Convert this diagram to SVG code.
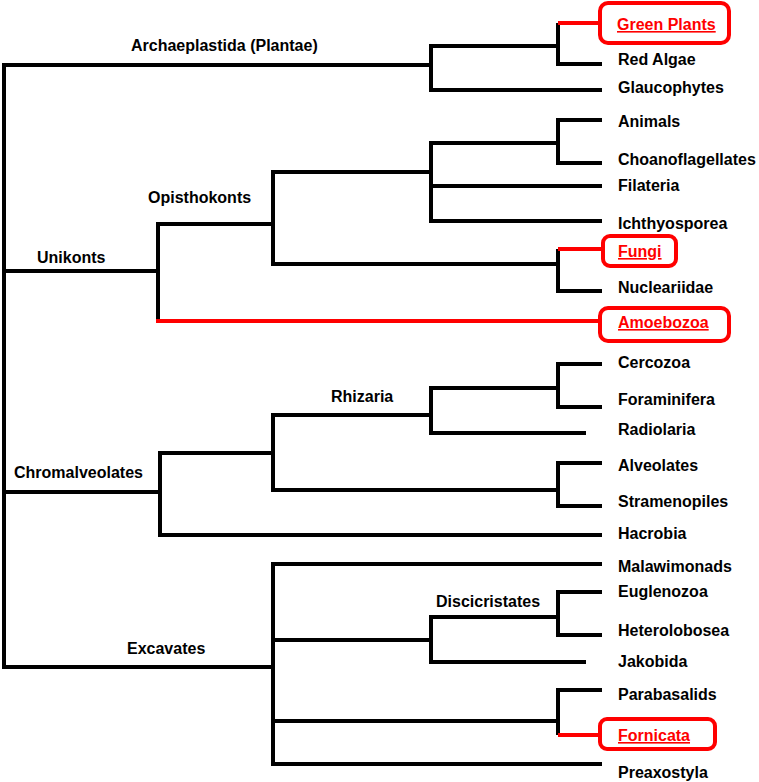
<svg xmlns="http://www.w3.org/2000/svg" width="759" height="782" viewBox="0 0 759 782">
<style>
.t{font-family:"Liberation Sans",Arial,sans-serif;font-weight:bold;font-size:16px;fill:#000}
.r{fill:#ff0000;text-decoration:underline}
.b{fill:none;stroke:#000;stroke-width:4;stroke-linejoin:miter;stroke-linecap:butt}
.rl{fill:none;stroke:#ff0000;stroke-width:4}
.box{fill:none;stroke:#ff0000;stroke-width:4}
</style>
<rect width="759" height="782" fill="#fff"/>
<g id="connectors">
<path class="b" d="M431,65 H4 V667 H273"/>
<path class="b" d="M558,46 H431 V90 H602"/>
<path class="b" d="M558,23 V64 H602"/>
<path class="rl" d="M558,23 H600"/>
<path class="b" d="M4,271 H158 V224 H273"/>
<path class="b" d="M431,172 H273 V264 H558"/>
<path class="b" d="M602,120 H558 V163 H602"/>
<path class="b" d="M558,143 H431 V221 H602"/>
<path class="b" d="M431,186 H602"/>
<path class="b" d="M558,249 V291 H602"/>
<path class="rl" d="M558,249 H602"/>
<path class="b" d="M158,224 V321"/>
<path class="rl" d="M156,321 H598"/>
<path class="b" d="M4,492 H160"/>
<path class="b" d="M273,453 H160 V535 H602"/>
<path class="b" d="M431,415 H273 V490 H558"/>
<path class="b" d="M558,388 H431 V433 H586"/>
<path class="b" d="M602,364 H558 V407 H602"/>
<path class="b" d="M602,463 H558 V506 H602"/>
<path class="b" d="M602,564 H273 V764 H602"/>
<path class="b" d="M273,640 H431"/>
<path class="b" d="M558,617 H431 V662 H586"/>
<path class="b" d="M602,592 H558 V635 H602"/>
<path class="b" d="M273,721 H558"/>
<path class="b" d="M602,690 H558 V735"/>
<path class="rl" d="M558,735 H598"/>
</g>
<g id="archaeplastida"><text class="t" x="131" y="51">Archaeplastida (Plantae)</text></g>
<g id="green-plants"><rect class="box" x="600" y="3" width="129" height="40" rx="8"/><text class="t r" x="617" y="30">Green Plants</text></g>
<g id="red-algae"><text class="t" x="618" y="65">Red Algae</text></g>
<g id="glaucophytes"><text class="t" x="618" y="93">Glaucophytes</text></g>
<g id="animals"><text class="t" x="618" y="127">Animals</text></g>
<g id="choanoflagellates"><text class="t" x="618" y="165">Choanoflagellates</text></g>
<g id="filateria"><text class="t" x="618" y="191">Filateria</text></g>
<g id="opisthokonts"><text class="t" x="148" y="203">Opisthokonts</text></g>
<g id="ichthyosporea"><text class="t" x="618" y="229">Ichthyosporea</text></g>
<g id="fungi"><rect class="box" x="603" y="236" width="73" height="30" rx="7"/><text class="t r" x="618" y="257">Fungi</text></g>
<g id="unikonts"><text class="t" x="37" y="263">Unikonts</text></g>
<g id="nucleariidae"><text class="t" x="618" y="293">Nucleariidae</text></g>
<g id="amoebozoa"><rect class="box" x="600" y="308" width="129" height="33" rx="8"/><text class="t r" x="618" y="328">Amoebozoa</text></g>
<g id="cercozoa"><text class="t" x="618" y="368">Cercozoa</text></g>
<g id="rhizaria"><text class="t" x="331" y="402">Rhizaria</text></g>
<g id="foraminifera"><text class="t" x="618" y="405">Foraminifera</text></g>
<g id="radiolaria"><text class="t" x="618" y="435">Radiolaria</text></g>
<g id="alveolates"><text class="t" x="618" y="471">Alveolates</text></g>
<g id="chromalveolates"><text class="t" x="14" y="478">Chromalveolates</text></g>
<g id="stramenopiles"><text class="t" x="618" y="507">Stramenopiles</text></g>
<g id="hacrobia"><text class="t" x="618" y="539">Hacrobia</text></g>
<g id="malawimonads"><text class="t" x="618" y="572">Malawimonads</text></g>
<g id="euglenozoa"><text class="t" x="618" y="597">Euglenozoa</text></g>
<g id="discicristates"><text class="t" x="436" y="607">Discicristates</text></g>
<g id="heterolobosea"><text class="t" x="618" y="636">Heterolobosea</text></g>
<g id="excavates"><text class="t" x="127" y="654">Excavates</text></g>
<g id="jakobida"><text class="t" x="618" y="667">Jakobida</text></g>
<g id="parabasalids"><text class="t" x="618" y="700">Parabasalids</text></g>
<g id="fornicata"><rect class="box" x="600" y="719" width="115" height="30" rx="7"/><text class="t r" x="618" y="741">Fornicata</text></g>
<g id="preaxostyla"><text class="t" x="618" y="778">Preaxostyla</text></g>
</svg>
